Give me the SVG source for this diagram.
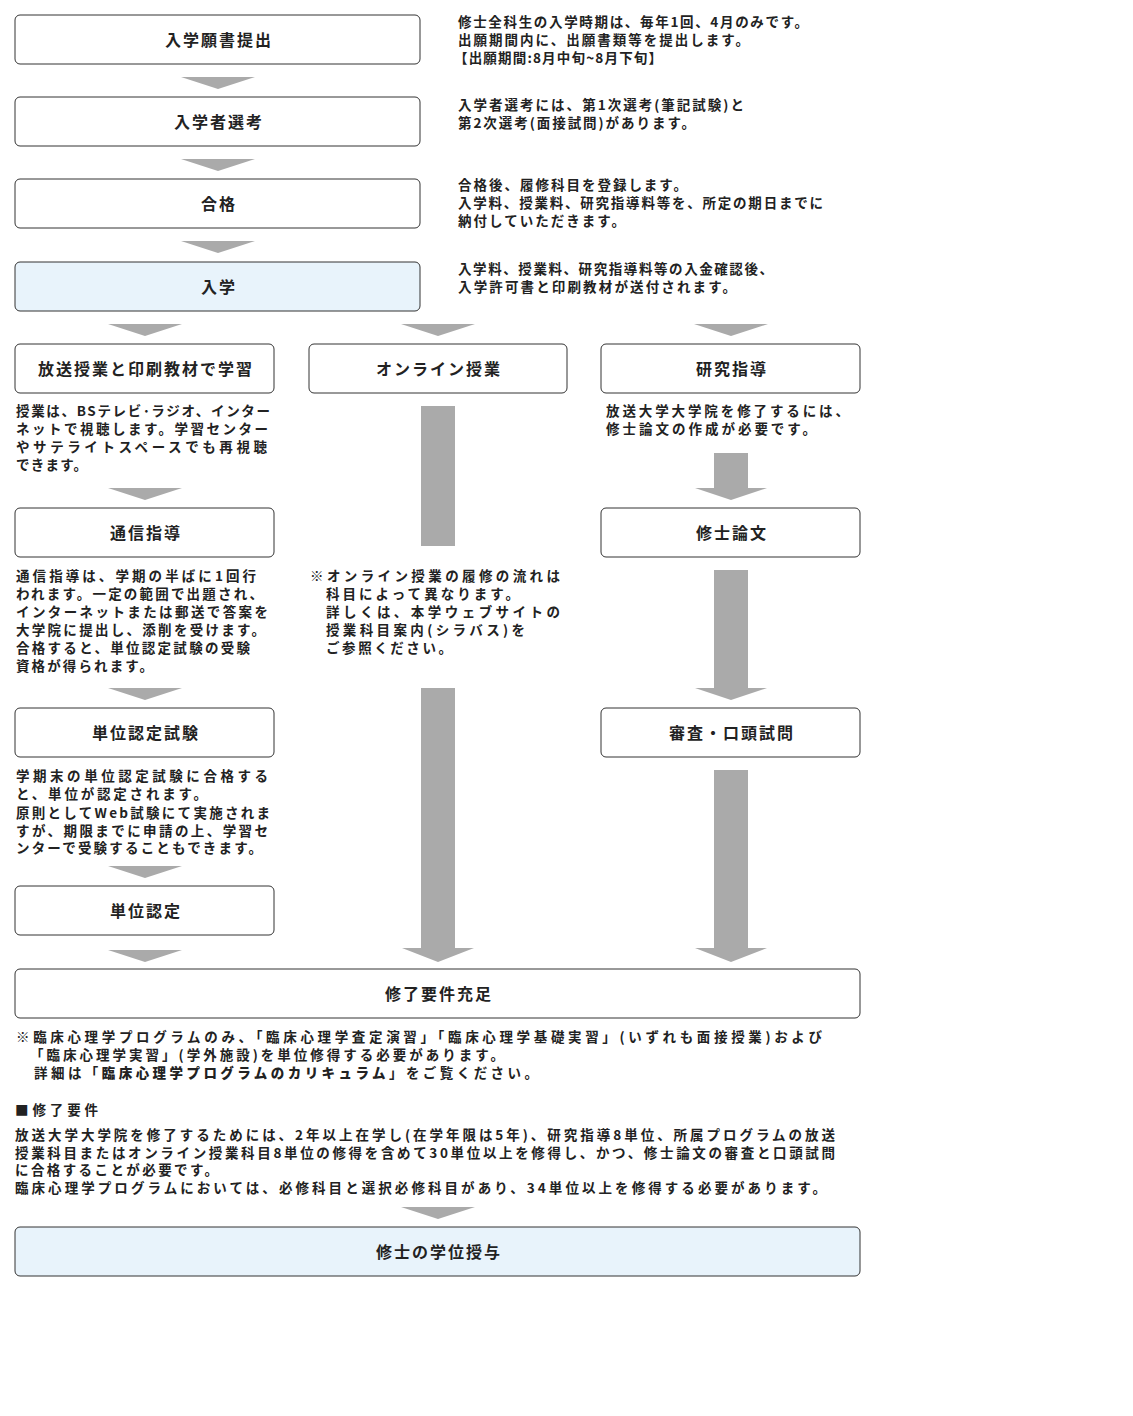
<svg xmlns="http://www.w3.org/2000/svg" width="1133" height="1416" viewBox="0 0 1133 1416">
<style>
.b{fill:#fff;stroke:#333;stroke-width:1}
.bb{fill:#e8f3fb;stroke:#333;stroke-width:1}
.l{font-family:"Noto Sans CJK JP","Noto Sans",sans-serif;font-size:16px;font-weight:bold;fill:#222;text-anchor:middle;letter-spacing:2px}
.t{font-family:"Noto Sans CJK JP","Noto Sans",sans-serif;font-size:13.5px;font-weight:bold;fill:#222}
.a{fill:#aaa}
</style>
<rect width="1133" height="1416" fill="#fff"/>
<g id="connectors">
<polygon class="a" points="181,77 255,77 218,89"/>
<polygon class="a" points="181,159 255,159 218,171"/>
<polygon class="a" points="181,241 255,241 218,253"/>
<polygon class="a" points="108,324 182,324 145,336"/>
<polygon class="a" points="401,324 475,324 438,336"/>
<polygon class="a" points="694,324 768,324 731,336"/>
<polygon class="a" points="108,488 182,488 145,500"/>
<polygon class="a" points="108,688 182,688 145,700"/>
<polygon class="a" points="108,866 182,866 145,878"/>
<polygon class="a" points="108,950 182,950 145,962"/>
<rect class="a" x="421" y="406" width="34" height="140"/>
<polygon class="a" points="421,688 455,688 455,948 474,948 438,962 402,948 421,948"/>
<polygon class="a" points="714,453 748,453 748,488 767,488 731,500 695,488 714,488"/>
<polygon class="a" points="714,570 748,570 748,688 767,688 731,700 695,688 714,688"/>
<polygon class="a" points="714,770 748,770 748,948 767,948 731,962 695,948 714,948"/>
<polygon class="a" points="401,1207 475,1207 438,1219"/>
</g>
<g id="n1"><rect class="b" x="15" y="15" width="405" height="49" rx="5"/><text class="l" x="219" y="46">入学願書提出</text></g>
<g id="n2"><rect class="b" x="15" y="97" width="405" height="49" rx="5"/><text class="l" x="219" y="128">入学者選考</text></g>
<g id="n3"><rect class="b" x="15" y="179" width="405" height="49" rx="5"/><text class="l" x="219" y="210">合格</text></g>
<g id="n4"><rect class="bb" x="15" y="262" width="405" height="49" rx="5"/><text class="l" x="219" y="293">入学</text></g>
<g id="d1" class="t"><text x="458" y="27" textLength="350" lengthAdjust="spacing">修士全科生の入学時期は、毎年1回、4月のみです。</text><text x="458" y="45" textLength="291" lengthAdjust="spacing">出願期間内に、出願書類等を提出します。</text><text x="454" y="63" textLength="208" lengthAdjust="spacing">【出願期間:8月中旬~8月下旬】</text></g>
<g id="d2" class="t"><text x="458" y="110" textLength="286" lengthAdjust="spacing">入学者選考には、第1次選考(筆記試験)と</text><text x="458" y="128" textLength="237" lengthAdjust="spacing">第2次選考(面接試問)があります。</text></g>
<g id="d3" class="t"><text x="458" y="190" textLength="229" lengthAdjust="spacing">合格後、履修科目を登録します。</text><text x="458" y="208" textLength="365" lengthAdjust="spacing">入学料、授業料、研究指導料等を、所定の期日までに</text><text x="458" y="226" textLength="167" lengthAdjust="spacing">納付していただきます。</text></g>
<g id="d4" class="t"><text x="458" y="274" textLength="315" lengthAdjust="spacing">入学料、授業料、研究指導料等の入金確認後、</text><text x="458" y="292" textLength="278" lengthAdjust="spacing">入学許可書と印刷教材が送付されます。</text></g>
<g id="n5"><rect class="b" x="15" y="344" width="259" height="49" rx="5"/><text class="l" x="146" y="375" letter-spacing="1">放送授業と印刷教材で学習</text></g>
<g id="n6"><rect class="b" x="309" y="344" width="258" height="49" rx="5"/><text class="l" x="439" y="375">オンライン授業</text></g>
<g id="n7"><rect class="b" x="601" y="344" width="259" height="49" rx="5"/><text class="l" x="732" y="375">研究指導</text></g>
<g id="d5" class="t"><text x="16" y="416" textLength="254" lengthAdjust="spacing">授業は、BSテレビ･ラジオ、インター</text><text x="16" y="434" textLength="252" lengthAdjust="spacing">ネットで視聴します。学習センター</text><text x="16" y="452" textLength="251" lengthAdjust="spacing">やサテライトスペースでも再視聴</text><text x="16" y="470" textLength="71" lengthAdjust="spacing">できます。</text></g>
<g id="d7" class="t"><text x="606" y="416" textLength="243" lengthAdjust="spacing">放送大学大学院を修了するには、</text><text x="606" y="434" textLength="210" lengthAdjust="spacing">修士論文の作成が必要です。</text></g>
<g id="n8"><rect class="b" x="15" y="508" width="259" height="49" rx="5"/><text class="l" x="146" y="539">通信指導</text></g>
<g id="n9"><rect class="b" x="601" y="508" width="259" height="49" rx="5"/><text class="l" x="732" y="539">修士論文</text></g>
<g id="d8" class="t"><text x="16" y="581" textLength="240" lengthAdjust="spacing">通信指導は、学期の半ばに1回行</text><text x="16" y="599" textLength="247" lengthAdjust="spacing">われます。一定の範囲で出題され、</text><text x="16" y="617" textLength="252" lengthAdjust="spacing">インターネットまたは郵送で答案を</text><text x="16" y="635" textLength="249" lengthAdjust="spacing">大学院に提出し、添削を受けます。</text><text x="16" y="653" textLength="234" lengthAdjust="spacing">合格すると、単位認定試験の受験</text><text x="16" y="671" textLength="137" lengthAdjust="spacing">資格が得られます。</text></g>
<g id="d6" class="t"><text x="310" y="581" textLength="250" lengthAdjust="spacing">※オンライン授業の履修の流れは</text><text x="326" y="599" textLength="193" lengthAdjust="spacing">科目によって異なります。</text><text x="326" y="617" textLength="234" lengthAdjust="spacing">詳しくは、本学ウェブサイトの</text><text x="326" y="635" textLength="199" lengthAdjust="spacing">授業科目案内(シラバス)を</text><text x="326" y="653" textLength="126" lengthAdjust="spacing">ご参照ください。</text></g>
<g id="n10"><rect class="b" x="15" y="708" width="259" height="49" rx="5"/><text class="l" x="146" y="739">単位認定試験</text></g>
<g id="n11"><rect class="b" x="601" y="708" width="259" height="49" rx="5"/><text class="l" x="732" y="739">審査・口頭試問</text></g>
<g id="d10" class="t"><text x="16" y="781" textLength="252" lengthAdjust="spacing">学期末の単位認定試験に合格する</text><text x="16" y="799" textLength="191" lengthAdjust="spacing">と、単位が認定されます。</text><text x="16" y="818" textLength="254" lengthAdjust="spacing">原則としてWeb試験にて実施されま</text><text x="16" y="836" textLength="252" lengthAdjust="spacing">すが、期限までに申請の上、学習セ</text><text x="16" y="853" textLength="246" lengthAdjust="spacing">ンターで受験することもできます。</text></g>
<g id="n12"><rect class="b" x="15" y="886" width="259" height="49" rx="5"/><text class="l" x="146" y="917">単位認定</text></g>
<g id="n13"><rect class="b" x="15" y="969" width="845" height="49" rx="5"/><text class="l" x="439" y="1000">修了要件充足</text></g>
<g id="d13" class="t"><text x="16" y="1042" textLength="806" lengthAdjust="spacing">※臨床心理学プログラムのみ、「臨床心理学査定演習」「臨床心理学基礎実習」(いずれも面接授業)および</text><text x="30" y="1060" textLength="474" lengthAdjust="spacing">「臨床心理学実習」(学外施設)を単位修得する必要があります。</text><text x="34" y="1078" textLength="504" lengthAdjust="spacing">詳細は「<tspan font-weight="900">臨床心理学プログラムのカリキュラム</tspan>」をご覧ください。</text>
<text x="15" y="1115" textLength="83" lengthAdjust="spacing">■修了要件</text>
<text x="15" y="1140" textLength="820" lengthAdjust="spacing">放送大学大学院を修了するためには、2年以上在学し(在学年限は5年)、研究指導8単位、所属プログラムの放送</text><text x="15" y="1158" textLength="820" lengthAdjust="spacing">授業科目またはオンライン授業科目8単位の修得を含めて30単位以上を修得し、かつ、修士論文の審査と口頭試問</text><text x="15" y="1175" textLength="203" lengthAdjust="spacing">に合格することが必要です。</text><text x="15" y="1193" textLength="811" lengthAdjust="spacing">臨床心理学プログラムにおいては、必修科目と選択必修科目があり、34単位以上を修得する必要があります。</text></g>
<g id="n14"><rect class="bb" x="15" y="1227" width="845" height="49" rx="5"/><text class="l" x="439" y="1258">修士の学位授与</text></g>
</svg>
